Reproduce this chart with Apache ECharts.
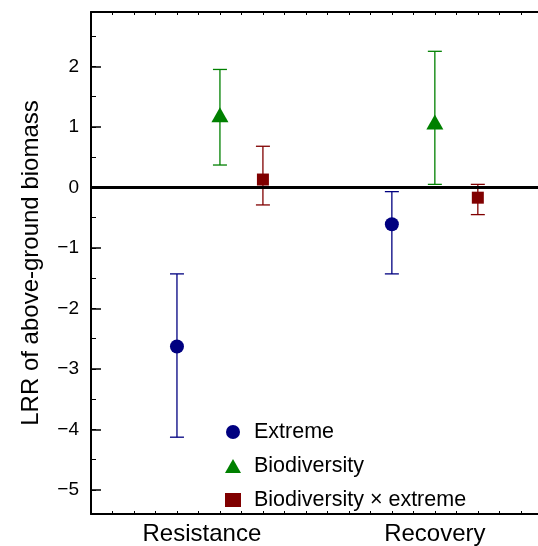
<!DOCTYPE html>
<html>
<head>
<meta charset="utf-8">
<script src="https://cdn.jsdelivr.net/npm/echarts@6/dist/echarts.min.js"></script>
<style>
  html, body { margin: 0; padding: 0; background: #fff; }
  #chart { width: 538px; height: 546px; }
</style>
</head>
<body>
<div id="chart"></div>
<script>
// groups on the x axis and the three effects
var groups = ['Resistance', 'Recovery'];
var effects = ['Extreme', 'Biodiversity', 'Biodiversity × extreme'];

// mean LRR and 95% CI per group
var extremeMean = [-2.63, -0.61];
var extremeLow = [-4.13, -1.43];
var extremeHigh = [-1.43, -0.07];

var bioMean = [1.2, 1.08];
var bioLow = [0.37, 0.05];
var bioHigh = [1.95, 2.25];

var interMean = [0.13, -0.17];
var interLow = [-0.29, -0.45];
var interHigh = [0.68, 0.05];

var yTicks = [-5, -4, -3, -2, -1, 0, 1, 2];
var yMinorTicks = [-5, -4.5, -4, -3.5, -3, -2.5, -2, -1.5, -1, -0.5, 0, 0.5, 1, 1.5, 2, 2.5];

var font = 'Liberation Sans, Arial, sans-serif';
var colors = ['#000080', '#008000', '#800000'];
var symbols = ['circle', 'triangle', 'rect'];
var symbolSizes = [14, [17, 15], 12];
var offsets = [-0.2, 0, 0.2];
// where the group names sit (text centre), in x units
var groupLabelAt = [0.916, 2];

var xTicks = [];
for (var i = 4; i <= 24; i++) xTicks.push(i / 10);

function errPoints(mean, low, high, k) {
  return mean.map(function (m, g) {
    return [g + 1 + offsets[k], low[g], high[g]];
  });
}
function meanPoints(mean, k) {
  return mean.map(function (m, g) {
    return [g + 1 + offsets[k], m];
  });
}

function errorBar(color) {
  return function (params, api) {
    var x = api.value(0);
    var lo = api.coord([x, api.value(1)]);
    var hi = api.coord([x, api.value(2)]);
    var w = 7;
    var style = { stroke: color, lineWidth: 1.3 };
    return {
      type: 'group',
      children: [
        { type: 'line', shape: { x1: lo[0], y1: lo[1], x2: hi[0], y2: hi[1] }, style: style },
        { type: 'line', shape: { x1: lo[0] - w, y1: lo[1], x2: lo[0] + w, y2: lo[1] }, style: style },
        { type: 'line', shape: { x1: hi[0] - w, y1: hi[1], x2: hi[0] + w, y2: hi[1] }, style: style }
      ]
    };
  };
}

var means = [extremeMean, bioMean, interMean];
var lows = [extremeLow, bioLow, interLow];
var highs = [extremeHigh, bioHigh, interHigh];

var series = [];
effects.forEach(function (name, k) {
  series.push({
    type: 'custom',
    name: name + ' CI',
    renderItem: errorBar(colors[k]),
    data: errPoints(means[k], lows[k], highs[k], k),
    encode: { x: 0, y: [1, 2] },
    z: 2
  });
});
effects.forEach(function (name, k) {
  series.push({
    type: 'scatter',
    name: name,
    symbol: symbols[k],
    symbolSize: symbolSizes[k],
    itemStyle: { color: colors[k], opacity: 1 },
    data: meanPoints(means[k], k),
    z: 3
  });
});
// zero reference line
series[0].markLine = {
  silent: true,
  symbol: 'none',
  label: { show: false },
  lineStyle: { color: '#000', width: 3, type: 'solid' },
  data: [{ yAxis: 0 }]
};

var chart = echarts.init(document.getElementById('chart'));
chart.setOption({
  animation: false,
  backgroundColor: '#fff',
  grid: { left: 91, right: 0, top: 12, bottom: 27 },
  legend: {
    orient: 'vertical',
    left: 225,
    top: 421,
    padding: 0,
    itemWidth: 16,
    itemHeight: 14,
    itemGap: 12,
    textStyle: { fontFamily: font, fontSize: 21.5, color: '#000', padding: [0, 0, 0, 8] },
    data: effects.map(function (n, k) { return { name: n, icon: symbols[k] }; })
  },
  xAxis: [{
    type: 'value',
    position: 'bottom',
    min: 0.4,
    max: 2.48,
    axisLine: { onZero: false, lineStyle: { color: '#000', width: 2 } },
    axisTick: { inside: true, length: 3, customValues: xTicks, lineStyle: { color: '#000' } },
    axisLabel: {
      customValues: groupLabelAt,
      margin: 8,
      fontFamily: font,
      fontSize: 24,
      color: '#000',
      formatter: function (v) { return v < 1.5 ? groups[0] : groups[1]; }
    },
    splitLine: { show: false }
  }, {
    type: 'value',
    position: 'top',
    min: 0.4,
    max: 2.48,
    axisLine: { onZero: false, lineStyle: { color: '#000', width: 2 } },
    axisTick: { inside: true, length: 3, customValues: xTicks, lineStyle: { color: '#000' } },
    axisLabel: { show: false },
    splitLine: { show: false }
  }],
  yAxis: [{
    type: 'value',
    min: -5.4,
    max: 2.9,
    name: 'LRR of above-ground biomass',
    nameLocation: 'middle',
    nameGap: 48,
    nameTextStyle: { fontFamily: font, fontSize: 24, color: '#000' },
    axisLine: { onZero: false, lineStyle: { color: '#000', width: 2 } },
    axisTick: { inside: true, length: 10, customValues: yTicks, lineStyle: { color: '#000', width: 1.5 } },
    axisLabel: {
      customValues: yTicks,
      margin: 12,
      fontFamily: font,
      fontSize: 19,
      color: '#000',
      formatter: function (v) { return String(v).replace('-', '\u2212'); }
    },
    splitLine: { show: false }
  }, {
    type: 'value',
    position: 'left',
    min: -5.4,
    max: 2.9,
    axisLine: { show: false, onZero: false },
    axisTick: { inside: true, length: 5, customValues: yMinorTicks, lineStyle: { color: '#000' } },
    axisLabel: { show: false },
    splitLine: { show: false }
  }],
  series: series
});
</script>
</body>
</html>
